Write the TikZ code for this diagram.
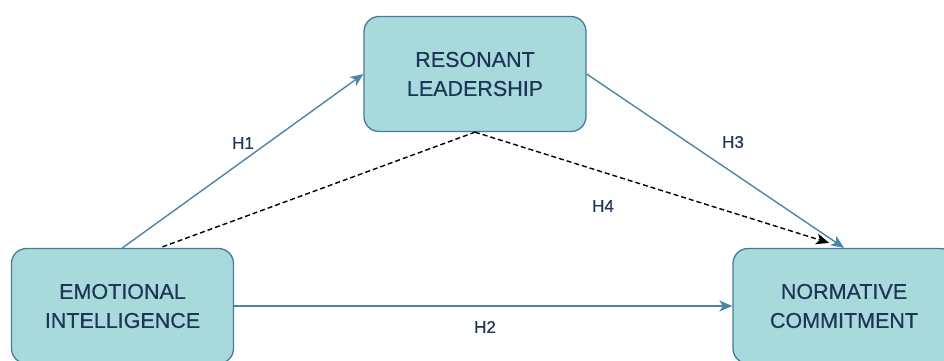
\documentclass[tikz,border=0pt]{standalone}
\usepackage{fontspec}
\setmainfont{Liberation Sans}
\newfontfamily\semibold{Liberation Sans}[FakeBold=0.5]
\usetikzlibrary{arrows.meta}
\definecolor{boxfill}{HTML}{A8DADC}
\definecolor{boxline}{HTML}{457B9D}
\definecolor{linkcol}{HTML}{4A86A8}
\definecolor{txtcol}{HTML}{1D3557}
\tikzset{
  varbox/.style={draw=boxline, line width=1.3pt, fill=boxfill, rounded corners=15pt,
    minimum width=222pt, minimum height=115pt, align=center, text=txtcol,
    font=\semibold\fontsize{21.5}{29}\selectfont, inner sep=0pt},
  tiphead/.style={-{Stealth[length=13pt,width=11pt,inset=3.5pt]}},
  link/.style={draw=linkcol, line width=1.4pt, tiphead},
  medlink/.style={draw=black, line width=1.4pt, dash pattern=on 5pt off 3pt},
  hlabel/.style={text=txtcol, font=\semibold\fontsize{17}{20}\selectfont, inner sep=0pt}
}
\begin{document}
\begin{tikzpicture}[x=1pt,y=-1pt]
\useasboundingbox (0,0) rectangle (944,361);
\clip (0,0) rectangle (944,361);
\node[varbox] (EI) at (122.5,306) {EMOTIONAL\\INTELLIGENCE};
\node[varbox] (RL) at (475,74) {RESONANT\\LEADERSHIP};
\node[varbox] (NC) at (844,306) {NORMATIVE\\COMMITMENT};
\coordinate (h4end) at ([xshift=-15pt,yshift=5pt]NC.north);
\coordinate (h4start) at ([xshift=40pt,yshift=1pt]EI.north);
\draw[link] (EI.north) -- (RL.west);
\draw[link] (EI.east) -- (NC.west);
\draw[link] (RL.east) -- (NC.north);
\draw[medlink] (h4start) -- (RL.south);
\draw[medlink, tiphead] (RL.south) -- (h4end);
\node[hlabel] (H1) at (243,143) {H1};
\node[hlabel] (H2) at (485,327) {H2};
\node[hlabel] (H3) at (733,142) {H3};
\node[hlabel] (H4) at (603,206) {H4};
\end{tikzpicture}
\end{document}
